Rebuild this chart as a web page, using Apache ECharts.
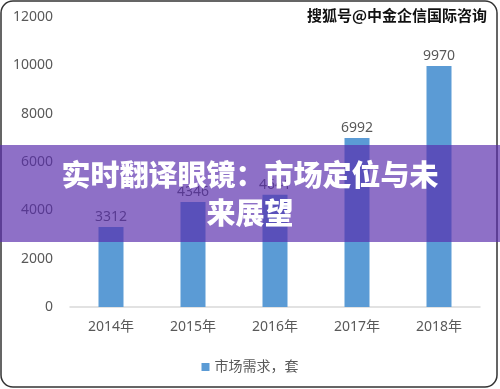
<!DOCTYPE html>
<html>
<head>
<meta charset="utf-8">
<script src="https://cdn.jsdelivr.net/npm/echarts@6/dist/echarts.min.js"></script>
<style>
html,body{margin:0;padding:0;background:#fff;}
#c{width:500px;height:389px;}
</style>
</head>
<body>
<div id="c"></div>
<script>
const categories = ['2014年', '2015年', '2016年', '2017年', '2018年'];
const demand = [3312, 4346, 4641, 6992, 9970];
const seriesName = '市场需求，套';
const yTicks = { min: 0, max: 12000, interval: 2000 };
const bannerTitle = '实时翻译眼镜：市场定位与未\n来展望';
const watermark = '搜狐号@中金企信国际咨询';

const FONT = '"Noto Sans", "Noto Sans CJK SC", sans-serif';
const chart = echarts.init(document.getElementById('c'));
chart.setOption({
  animation: false,
  backgroundColor: '#ffffff',
  grid: { left: 70, right: 20, top: 17, bottom: 82 },
  legend: {
    data: [seriesName],
    left: 'center',
    top: 355,
    icon: 'rect',
    itemWidth: 8,
    itemHeight: 8,
    itemGap: 10,
    textStyle: { color: '#595959', fontSize: 14, fontFamily: FONT }
  },
  xAxis: {
    type: 'category',
    data: categories,
    axisLine: { lineStyle: { color: '#d9d9d9', width: 1.5 } },
    axisTick: { show: false },
    axisLabel: { color: '#595959', fontSize: 14, fontFamily: FONT, margin: 13 }
  },
  yAxis: {
    type: 'value',
    min: yTicks.min,
    max: yTicks.max,
    interval: yTicks.interval,
    axisLine: { show: false },
    axisTick: { show: false },
    splitLine: { show: false },
    axisLabel: {
      color: '#595959', fontSize: 14, fontFamily: FONT, margin: 17,
      formatter: function (v) { return String(v); }
    }
  },
  series: [{
    name: seriesName,
    type: 'bar',
    data: demand,
    barWidth: 25,
    itemStyle: { color: '#5b9bd5' },
    label: { show: true, position: 'top', distance: 3, color: '#595959', fontSize: 14, fontFamily: FONT }
  }],
  graphic: [
    {
      type: 'rect', z: 100,
      shape: { x: 1, y: 1, width: 496, height: 386, r: 12 },
      style: { fill: 'none', stroke: '#333333', lineWidth: 1.5 }
    },
    {
      type: 'text', z: 100,
      style: {
        x: 487, y: 15, text: watermark, align: 'right', verticalAlign: 'middle',
        fontSize: 15, fontWeight: 'bold', fontFamily: '"Noto Sans CJK SC", sans-serif',
        fill: '#111111', stroke: '#ffffff', lineWidth: 2
      }
    },
    {
      type: 'rect', z: 110,
      shape: { x: 0, y: 145, width: 500, height: 97 },
      style: { fill: 'rgba(89,44,173,0.68)' }
    },
    {
      type: 'text', z: 120,
      style: {
        x: 250, y: 194, text: bannerTitle, align: 'center', verticalAlign: 'middle',
        fontSize: 29, fontWeight: 900, lineHeight: 38,
        fontFamily: '"Noto Sans CJK SC", sans-serif', fill: '#ffffff'
      }
    }
  ]
});
</script>
</body>
</html>
